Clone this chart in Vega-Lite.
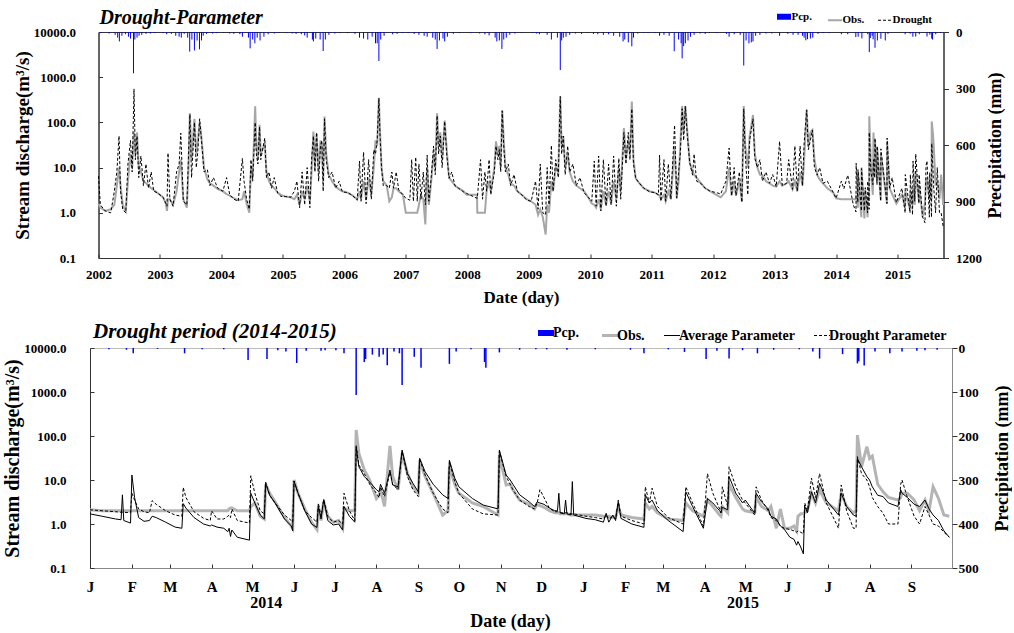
{
"$schema": "https://vega.github.io/schema/vega-lite/v6.json",
"background": "white",
"padding": {"left": 2, "top": 7, "right": 0, "bottom": 0},
"align": "all",
"center": true,
"bounds": "flush",
"spacing": 90,
"config": {
  "font": "Liberation Serif",
  "view": {"stroke": "#333"},
  "axis": {"labelFont": "Liberation Serif", "titleFont": "Liberation Serif", "labelFontWeight": "bold", "titleFontWeight": "bold", "labelColor": "#000", "titleColor": "#000", "grid": false, "domainColor": "#333", "tickColor": "#333", "labelFlush": false, "labelOverlap": false},
  "legend": {"labelFont": "Liberation Serif", "labelFontWeight": "bold", "labelColor": "#000"},
  "title": {"font": "Liberation Serif", "color": "#000"}
},
"resolve": {"scale": {"color": "independent"}, "legend": {"color": "independent"}},
"datasets": {
"top": [
{"t":"2002-01-01","o":1.6,"d":6.5},{"t":"2002-01-12","o":1.3,"d":1.5},{"t":"2002-02-10","o":1.1,"d":1.1},{"t":"2002-03-15","o":1.2,"d":1.0},{"t":"2002-04-05","o":1.5,"d":3},{"t":"2002-04-20","o":4,"d":8},{"t":"2002-05-03","o":10,"d":50},{"t":"2002-05-12","o":4,"d":3},{"t":"2002-05-25","o":1.5,"d":1.2},{"t":"2002-06-12","o":1.1,"d":1.0},{"t":"2002-06-25","o":5,"d":12},{"t":"2002-07-10","o":20,"d":40},{"t":"2002-07-20","o":10,"d":8},{"t":"2002-07-31","o":60,"d":550},{"t":"2002-08-08","o":20,"d":15},{"t":"2002-08-18","o":60,"d":50},{"t":"2002-08-28","o":10,"d":6},{"t":"2002-09-10","o":8,"d":18},{"t":"2002-09-25","o":5,"d":4},{"t":"2002-10-10","o":4.5,"d":12},{"t":"2002-10-25","o":4,"d":3.5},{"t":"2002-11-10","o":3.5,"d":8},{"t":"2002-11-25","o":3.2,"d":3},{"t":"2002-12-15","o":2.8,"d":2.8},
{"t":"2003-01-20","o":2.2,"d":2.2},{"t":"2003-02-05","o":1.6,"d":1.6},{"t":"2003-02-12","o":1.1,"d":1.4},{"t":"2003-02-18","o":2,"d":21},{"t":"2003-03-01","o":2,"d":2},{"t":"2003-03-20","o":1.5,"d":1.4},{"t":"2003-04-10","o":3,"d":8},{"t":"2003-04-25","o":8,"d":12},{"t":"2003-05-05","o":15,"d":58},{"t":"2003-05-20","o":2,"d":1.8},{"t":"2003-06-10","o":1.3,"d":1.5},{"t":"2003-06-20","o":10,"d":20},{"t":"2003-06-28","o":160,"d":150},{"t":"2003-07-08","o":15,"d":6},{"t":"2003-07-25","o":120,"d":100},{"t":"2003-08-05","o":20,"d":10},{"t":"2003-08-15","o":40,"d":25},{"t":"2003-08-25","o":100,"d":120},{"t":"2003-09-05","o":45,"d":40},{"t":"2003-09-20","o":10,"d":8},{"t":"2003-10-10","o":5.5,"d":9},{"t":"2003-10-25","o":4.5,"d":4},{"t":"2003-11-15","o":4,"d":6},{"t":"2003-12-10","o":3.4,"d":3.5},
{"t":"2004-01-10","o":3,"d":3},{"t":"2004-02-01","o":2.6,"d":6},{"t":"2004-02-20","o":2.4,"d":2.5},{"t":"2004-03-15","o":2.1,"d":2},{"t":"2004-04-10","o":1.9,"d":1.8},{"t":"2004-05-05","o":2,"d":16},{"t":"2004-05-15","o":3,"d":5},{"t":"2004-05-30","o":1.6,"d":2},{"t":"2004-06-15","o":1.0,"d":1.2},{"t":"2004-06-25","o":10,"d":15},{"t":"2004-07-05","o":6,"d":5},{"t":"2004-07-20","o":227,"d":100},{"t":"2004-07-27","o":30,"d":20},{"t":"2004-08-05","o":15,"d":12},{"t":"2004-08-15","o":88,"d":80},{"t":"2004-08-22","o":20,"d":15},{"t":"2004-09-15","o":35,"d":45},{"t":"2004-09-25","o":8,"d":6},{"t":"2004-10-10","o":5,"d":8},{"t":"2004-10-25","o":4,"d":3.5},{"t":"2004-11-10","o":3.5,"d":6},{"t":"2004-12-01","o":2.8,"d":2.7},{"t":"2004-12-20","o":2.5,"d":2.3},
{"t":"2005-01-15","o":2.3,"d":2.3},{"t":"2005-02-15","o":2.2,"d":2.2},{"t":"2005-03-10","o":2.0,"d":3},{"t":"2005-03-25","o":2.5,"d":5},{"t":"2005-04-10","o":1.5,"d":1.3},{"t":"2005-04-25","o":3,"d":8},{"t":"2005-05-10","o":2,"d":1.5},{"t":"2005-05-25","o":4,"d":10},{"t":"2005-06-10","o":1.8,"d":1.3},{"t":"2005-06-20","o":8,"d":15},{"t":"2005-07-01","o":63,"d":50},{"t":"2005-07-10","o":10,"d":8},{"t":"2005-07-20","o":55,"d":60},{"t":"2005-08-01","o":8,"d":5},{"t":"2005-08-12","o":40,"d":30},{"t":"2005-08-20","o":30,"d":40},{"t":"2005-08-28","o":5,"d":3},{"t":"2005-09-05","o":135,"d":120},{"t":"2005-09-15","o":20,"d":15},{"t":"2005-09-30","o":7,"d":6},{"t":"2005-10-20","o":5,"d":8},{"t":"2005-11-10","o":3.8,"d":3.5},{"t":"2005-12-01","o":3.3,"d":5},{"t":"2005-12-20","o":3.0,"d":2.9},
{"t":"2006-01-20","o":2.8,"d":2.8},{"t":"2006-02-20","o":2.4,"d":2.4},{"t":"2006-03-18","o":2.0,"d":1.9},{"t":"2006-04-01","o":3,"d":14},{"t":"2006-04-10","o":2,"d":1.8},{"t":"2006-04-25","o":5,"d":22},{"t":"2006-05-10","o":2,"d":1.6},{"t":"2006-05-25","o":6,"d":15},{"t":"2006-06-10","o":2.5,"d":2},{"t":"2006-06-25","o":10,"d":25},{"t":"2006-07-05","o":40,"d":20},{"t":"2006-07-15","o":30,"d":40},{"t":"2006-07-25","o":350,"d":340},{"t":"2006-08-01","o":60,"d":50},{"t":"2006-08-10","o":10,"d":9.7},{"t":"2006-08-20","o":5,"d":4},{"t":"2006-09-10","o":4,"d":4},{"t":"2006-09-25","o":1.8,"d":3.5},{"t":"2006-10-10","o":2.2,"d":8},{"t":"2006-10-20","o":3.5,"d":3.5},{"t":"2006-11-05","o":3.5,"d":8},{"t":"2006-11-20","o":3,"d":3.2},{"t":"2006-12-15","o":2.5,"d":2.5},
{"t":"2007-01-01","o":1.0,"d":2.1},{"t":"2007-01-25","o":1.0,"d":1.9},{"t":"2007-02-05","o":1.0,"d":15},{"t":"2007-02-15","o":1.0,"d":1.8},{"t":"2007-03-01","o":1.0,"d":17},{"t":"2007-03-10","o":1.0,"d":1.8},{"t":"2007-03-20","o":1.5,"d":12},{"t":"2007-04-01","o":2.5,"d":2},{"t":"2007-04-15","o":2,"d":8},{"t":"2007-04-27","o":0.55,"d":1.5},{"t":"2007-05-08","o":10,"d":19},{"t":"2007-05-18","o":1.5,"d":1.8},{"t":"2007-06-01","o":5,"d":6},{"t":"2007-06-15","o":20,"d":30},{"t":"2007-06-25","o":10,"d":7},{"t":"2007-07-06","o":160,"d":140},{"t":"2007-07-15","o":30,"d":20},{"t":"2007-07-25","o":60,"d":50},{"t":"2007-08-05","o":15,"d":10},{"t":"2007-08-20","o":110,"d":105},{"t":"2007-09-01","o":25,"d":20},{"t":"2007-09-15","o":6,"d":5.8},{"t":"2007-10-01","o":5,"d":8},{"t":"2007-10-20","o":4,"d":4},{"t":"2007-11-10","o":3.5,"d":3.5},{"t":"2007-12-10","o":3,"d":2.9},{"t":"2007-12-28","o":2.5,"d":2.7},
{"t":"2008-01-15","o":2.5,"d":2.5},{"t":"2008-02-15","o":2.5,"d":2.2},{"t":"2008-02-28","o":2.5,"d":2.1},{"t":"2008-03-01","o":1.0,"d":2.1},{"t":"2008-03-20","o":1.0,"d":15},{"t":"2008-04-01","o":1.0,"d":2},{"t":"2008-04-15","o":1.0,"d":8},{"t":"2008-04-25","o":3,"d":3},{"t":"2008-05-10","o":5,"d":15},{"t":"2008-05-20","o":3,"d":2.5},{"t":"2008-06-10","o":10,"d":8},{"t":"2008-06-20","o":38,"d":30},{"t":"2008-07-01","o":20,"d":15},{"t":"2008-07-10","o":30,"d":25},{"t":"2008-07-18","o":10,"d":8},{"t":"2008-07-27","o":185,"d":180},{"t":"2008-08-05","o":40,"d":30},{"t":"2008-08-15","o":10,"d":8},{"t":"2008-09-01","o":7,"d":12},{"t":"2008-09-15","o":4.5,"d":4},{"t":"2008-10-05","o":4,"d":7},{"t":"2008-10-25","o":3,"d":3},{"t":"2008-11-20","o":2.5,"d":2.5},{"t":"2008-12-20","o":2,"d":1.9},
{"t":"2009-01-15","o":1.8,"d":1.8},{"t":"2009-02-10","o":1.5,"d":5},{"t":"2009-02-25","o":0.9,"d":1.2},{"t":"2009-03-10","o":1.2,"d":12},{"t":"2009-03-25","o":0.8,"d":1.0},{"t":"2009-04-11","o":0.33,"d":0.9},{"t":"2009-04-20","o":1.5,"d":10},{"t":"2009-05-01","o":1,"d":1.5},{"t":"2009-05-15","o":5,"d":31},{"t":"2009-05-25","o":3,"d":3},{"t":"2009-06-10","o":10,"d":15},{"t":"2009-06-25","o":8,"d":6},{"t":"2009-07-07","o":370,"d":376},{"t":"2009-07-15","o":30,"d":20},{"t":"2009-07-25","o":50,"d":50},{"t":"2009-08-05","o":10,"d":7},{"t":"2009-08-20","o":20,"d":30},{"t":"2009-09-01","o":8,"d":8},{"t":"2009-09-20","o":5,"d":12},{"t":"2009-10-10","o":4,"d":4},{"t":"2009-11-01","o":3.5,"d":6},{"t":"2009-11-25","o":3,"d":2.8},{"t":"2009-12-20","o":2.2,"d":2.2},
{"t":"2010-01-10","o":1.6,"d":1.8},{"t":"2010-01-25","o":1.5,"d":14},{"t":"2010-02-05","o":1.3,"d":1.4},{"t":"2010-02-20","o":2,"d":18},{"t":"2010-03-05","o":1.2,"d":1.1},{"t":"2010-03-20","o":3,"d":15},{"t":"2010-04-05","o":1.5,"d":1.4},{"t":"2010-04-20","o":3,"d":12},{"t":"2010-05-05","o":1.6,"d":1.5},{"t":"2010-05-20","o":5,"d":18},{"t":"2010-06-05","o":2,"d":1.4},{"t":"2010-06-20","o":10,"d":16},{"t":"2010-07-01","o":3,"d":2},{"t":"2010-07-20","o":75,"d":60},{"t":"2010-08-01","o":15,"d":12},{"t":"2010-08-15","o":40,"d":60},{"t":"2010-08-25","o":20,"d":15},{"t":"2010-09-05","o":290,"d":200},{"t":"2010-09-15","o":15,"d":12},{"t":"2010-09-28","o":5.8,"d":5.8},{"t":"2010-10-20","o":4.5,"d":4.5},{"t":"2010-11-15","o":3.5,"d":3.5},{"t":"2010-12-20","o":3,"d":2.9},
{"t":"2011-01-20","o":2.8,"d":2.8},{"t":"2011-02-10","o":2.5,"d":2.5},{"t":"2011-02-17","o":2.4,"d":19},{"t":"2011-02-25","o":2,"d":1.8},{"t":"2011-03-15","o":2.5,"d":15},{"t":"2011-03-25","o":1.8,"d":1.8},{"t":"2011-04-10","o":3,"d":12},{"t":"2011-04-25","o":2,"d":2},{"t":"2011-05-17","o":30,"d":87},{"t":"2011-05-30","o":2.1,"d":2.1},{"t":"2011-06-10","o":5,"d":8},{"t":"2011-06-20","o":30,"d":20},{"t":"2011-07-01","o":230,"d":200},{"t":"2011-07-10","o":60,"d":40},{"t":"2011-07-20","o":230,"d":230},{"t":"2011-08-01","o":60,"d":50},{"t":"2011-08-15","o":13,"d":13},{"t":"2011-09-01","o":8,"d":6.8},{"t":"2011-09-10","o":7,"d":20},{"t":"2011-09-25","o":6,"d":5},{"t":"2011-10-20","o":4.5,"d":4.5},{"t":"2011-11-15","o":3.5,"d":3.5},{"t":"2011-12-15","o":3,"d":3},
{"t":"2012-01-20","o":2.5,"d":2.8},{"t":"2012-02-15","o":2.2,"d":2.6},{"t":"2012-03-17","o":3,"d":5},{"t":"2012-04-05","o":10,"d":27},{"t":"2012-04-20","o":2.4,"d":2.4},{"t":"2012-05-05","o":5,"d":10},{"t":"2012-05-16","o":2.4,"d":2.4},{"t":"2012-06-05","o":5,"d":8},{"t":"2012-06-20","o":1.8,"d":1.7},{"t":"2012-07-01","o":230,"d":200},{"t":"2012-07-10","o":30,"d":20},{"t":"2012-07-25","o":10,"d":2.5},{"t":"2012-08-05","o":50,"d":40},{"t":"2012-08-25","o":146,"d":120},{"t":"2012-09-05","o":20,"d":16},{"t":"2012-09-20","o":10,"d":10},{"t":"2012-10-05","o":7,"d":15},{"t":"2012-10-20","o":6.8,"d":5},{"t":"2012-11-10","o":5,"d":8},{"t":"2012-12-01","o":4.5,"d":4.5},{"t":"2012-12-20","o":4,"d":7},
{"t":"2013-01-10","o":3.8,"d":3.8},{"t":"2013-01-30","o":5,"d":38},{"t":"2013-02-15","o":4,"d":4},{"t":"2013-03-13","o":4.5,"d":4.5},{"t":"2013-03-25","o":5,"d":15},{"t":"2013-04-17","o":3.3,"d":3.3},{"t":"2013-05-01","o":5,"d":30},{"t":"2013-05-15","o":3,"d":3},{"t":"2013-06-01","o":8,"d":30},{"t":"2013-06-15","o":4,"d":4},{"t":"2013-06-25","o":15,"d":35},{"t":"2013-07-10","o":190,"d":190},{"t":"2013-07-20","o":30,"d":25},{"t":"2013-08-01","o":60,"d":40},{"t":"2013-08-13","o":68,"d":68},{"t":"2013-08-25","o":15,"d":10},{"t":"2013-09-11","o":6.8,"d":6.8},{"t":"2013-09-25","o":5.5,"d":10},{"t":"2013-10-15","o":4.5,"d":4.5},{"t":"2013-11-10","o":3.5,"d":5},{"t":"2013-12-15","o":2.8,"d":2.8},
{"t":"2014-01-01","o":2.1,"d":2.1},{"t":"2014-02-01","o":2.0,"d":5},{"t":"2014-02-16","o":2.0,"d":3.4},{"t":"2014-03-11","o":2.0,"d":6.8},{"t":"2014-04-13","o":2.0,"d":1.5},{"t":"2014-04-29","o":2.0,"d":1.05},{"t":"2014-04-30","o":2.5,"d":12.5},{"t":"2014-05-10","o":1.3,"d":1.7},{"t":"2014-05-11","o":8,"d":9},{"t":"2014-05-31","o":0.8,"d":1.1},{"t":"2014-06-01","o":10,"d":9.5},{"t":"2014-06-18","o":0.75,"d":1.1},{"t":"2014-06-23","o":3.2,"d":3.6},{"t":"2014-07-07","o":0.8,"d":1.0},{"t":"2014-07-08","o":2.3,"d":5},{"t":"2014-07-16","o":2,"d":1.2},{"t":"2014-07-17","o":137,"d":60},{"t":"2014-07-27","o":10,"d":8},{"t":"2014-08-07","o":2.5,"d":4.2},{"t":"2014-08-11","o":60,"d":15},{"t":"2014-08-17","o":6,"d":6},{"t":"2014-08-20","o":40,"d":45},{"t":"2014-09-01","o":5,"d":4.2},{"t":"2014-09-02","o":28,"d":30},{"t":"2014-09-23","o":2,"d":1.8},{"t":"2014-09-24","o":20,"d":26},{"t":"2014-10-30","o":1.6,"d":1.6},{"t":"2014-10-31","o":37,"d":45},{"t":"2014-11-15","o":3.5,"d":3.5},{"t":"2014-11-30","o":2.6,"d":6},{"t":"2014-12-25","o":1.6,"d":1.7},
{"t":"2015-01-27","o":2.5,"d":3.5},{"t":"2015-02-15","o":1.3,"d":1.0},{"t":"2015-02-16","o":3,"d":7},{"t":"2015-03-16","o":1.2,"d":1.0},{"t":"2015-03-18","o":3,"d":7},{"t":"2015-03-31","o":1.5,"d":0.9},{"t":"2015-04-03","o":3.5,"d":14},{"t":"2015-04-13","o":1.5,"d":1.8},{"t":"2015-04-19","o":8,"d":20},{"t":"2015-05-08","o":1.8,"d":1.6},{"t":"2015-05-09","o":4,"d":7},{"t":"2015-05-30","o":0.8,"d":0.8},{"t":"2015-06-13","o":1.7,"d":0.6},{"t":"2015-06-19","o":5,"d":11},{"t":"2015-06-25","o":6,"d":14},{"t":"2015-07-09","o":2,"d":0.8},{"t":"2015-07-11","o":5,"d":7.7},{"t":"2015-07-22","o":2,"d":0.8},{"t":"2015-07-23","o":105,"d":34},{"t":"2015-07-30","o":57,"d":10},{"t":"2015-08-03","o":35,"d":4},{"t":"2015-08-15","o":4,"d":1.0},{"t":"2015-08-25","o":5,"d":10},{"t":"2015-09-07","o":2,"d":1.0},{"t":"2015-09-17","o":7,"d":1.0},{"t":"2015-09-29","o":1.5,"d":0.5}
],
"tp": [
{"t":"2002-01-15","p":5},{"t":"2002-03-05","p":8},{"t":"2002-04-10","p":15},{"t":"2002-04-25","p":30},{"t":"2002-05-05","p":50},{"t":"2002-05-20","p":20},{"t":"2002-06-10","p":12},{"t":"2002-06-28","p":25},{"t":"2002-07-10","p":35},{"t":"2002-07-28","p":219},{"t":"2002-08-05","p":40},{"t":"2002-08-18","p":30},{"t":"2002-08-30","p":20},{"t":"2002-09-15","p":15},{"t":"2002-10-10","p":10},{"t":"2002-11-05","p":8},{"t":"2002-12-01","p":5},
{"t":"2003-01-20","p":6},{"t":"2003-02-10","p":12},{"t":"2003-03-10","p":10},{"t":"2003-04-05","p":20},{"t":"2003-04-25","p":25},{"t":"2003-05-08","p":30},{"t":"2003-05-25","p":10},{"t":"2003-06-15","p":30},{"t":"2003-06-27","p":104},{"t":"2003-07-10","p":40},{"t":"2003-07-25","p":98},{"t":"2003-08-10","p":45},{"t":"2003-08-24","p":92},{"t":"2003-09-05","p":45},{"t":"2003-09-15","p":20},{"t":"2003-10-05","p":10},{"t":"2003-11-10","p":8},{"t":"2003-12-05","p":6},
{"t":"2004-01-15","p":5},{"t":"2004-02-20","p":8},{"t":"2004-03-15","p":10},{"t":"2004-04-20","p":12},{"t":"2004-05-05","p":25},{"t":"2004-06-10","p":30},{"t":"2004-06-20","p":87},{"t":"2004-07-05","p":40},{"t":"2004-07-18","p":60},{"t":"2004-08-01","p":30},{"t":"2004-08-18","p":45},{"t":"2004-09-10","p":25},{"t":"2004-10-05","p":12},{"t":"2004-11-10","p":8},{"t":"2004-12-10","p":5},
{"t":"2005-01-20","p":5},{"t":"2005-02-25","p":8},{"t":"2005-03-20","p":10},{"t":"2005-04-20","p":12},{"t":"2005-05-10","p":18},{"t":"2005-05-25","p":30},{"t":"2005-06-25","p":40},{"t":"2005-07-01","p":50},{"t":"2005-07-15","p":35},{"t":"2005-08-10","p":40},{"t":"2005-08-28","p":101},{"t":"2005-09-10","p":40},{"t":"2005-10-01","p":15},{"t":"2005-11-05","p":8},{"t":"2005-12-05","p":6},
{"t":"2006-01-20","p":6},{"t":"2006-03-05","p":10},{"t":"2006-04-01","p":30},{"t":"2006-04-25","p":35},{"t":"2006-05-20","p":40},{"t":"2006-06-15","p":25},{"t":"2006-07-05","p":60},{"t":"2006-07-15","p":60},{"t":"2006-07-25","p":154},{"t":"2006-08-05","p":40},{"t":"2006-08-25","p":20},{"t":"2006-10-15","p":12},{"t":"2006-11-10","p":10},{"t":"2006-12-10","p":5},
{"t":"2007-01-15","p":5},{"t":"2007-02-20","p":10},{"t":"2007-03-20","p":15},{"t":"2007-04-20","p":20},{"t":"2007-05-08","p":25},{"t":"2007-06-10","p":30},{"t":"2007-06-25","p":40},{"t":"2007-07-06","p":90},{"t":"2007-07-20","p":45},{"t":"2007-08-10","p":35},{"t":"2007-08-20","p":50},{"t":"2007-09-05","p":25},{"t":"2007-10-10","p":10},{"t":"2007-11-15","p":6},
{"t":"2008-01-20","p":5},{"t":"2008-03-15","p":8},{"t":"2008-04-15","p":12},{"t":"2008-05-10","p":18},{"t":"2008-06-15","p":30},{"t":"2008-06-25","p":50},{"t":"2008-07-10","p":45},{"t":"2008-07-25","p":90},{"t":"2008-08-05","p":40},{"t":"2008-08-20","p":30},{"t":"2008-09-10","p":15},{"t":"2008-10-10","p":8},{"t":"2008-11-20","p":5},
{"t":"2009-01-20","p":5},{"t":"2009-02-15","p":8},{"t":"2009-03-05","p":12},{"t":"2009-04-20","p":15},{"t":"2009-05-15","p":40},{"t":"2009-06-20","p":30},{"t":"2009-07-07","p":202},{"t":"2009-07-15","p":45},{"t":"2009-07-25","p":30},{"t":"2009-08-10","p":25},{"t":"2009-09-01","p":15},{"t":"2009-10-05","p":8},{"t":"2009-11-10","p":10},{"t":"2009-12-15","p":5},
{"t":"2010-01-20","p":10},{"t":"2010-02-15","p":12},{"t":"2010-03-20","p":15},{"t":"2010-04-20","p":12},{"t":"2010-05-20","p":20},{"t":"2010-06-25","p":25},{"t":"2010-07-15","p":50},{"t":"2010-07-25","p":40},{"t":"2010-08-15","p":55},{"t":"2010-09-05","p":76},{"t":"2010-09-15","p":30},{"t":"2010-10-10","p":8},{"t":"2010-11-15","p":5},{"t":"2010-12-10","p":5},
{"t":"2011-01-20","p":5},{"t":"2011-02-17","p":20},{"t":"2011-03-15","p":15},{"t":"2011-04-15","p":20},{"t":"2011-05-15","p":102},{"t":"2011-06-10","p":40},{"t":"2011-06-25","p":60},{"t":"2011-07-01","p":140},{"t":"2011-07-10","p":75},{"t":"2011-07-20","p":60},{"t":"2011-08-05","p":45},{"t":"2011-08-20","p":25},{"t":"2011-09-10","p":15},{"t":"2011-10-15","p":8},{"t":"2011-11-15","p":10},{"t":"2011-12-10","p":5},
{"t":"2012-01-20","p":5},{"t":"2012-03-20","p":10},{"t":"2012-04-05","p":25},{"t":"2012-05-05","p":12},{"t":"2012-06-10","p":15},{"t":"2012-07-01","p":178},{"t":"2012-07-15","p":45},{"t":"2012-08-01","p":60},{"t":"2012-08-15","p":55},{"t":"2012-08-25","p":50},{"t":"2012-09-10","p":20},{"t":"2012-10-05","p":15},{"t":"2012-11-10","p":8},{"t":"2012-12-15","p":8},
{"t":"2013-01-30","p":20},{"t":"2013-03-20","p":10},{"t":"2013-04-20","p":15},{"t":"2013-05-20","p":15},{"t":"2013-06-15","p":20},{"t":"2013-06-25","p":30},{"t":"2013-07-05","p":44},{"t":"2013-07-15","p":38},{"t":"2013-08-01","p":35},{"t":"2013-08-15","p":30},{"t":"2013-09-15","p":10},{"t":"2013-10-15","p":6},{"t":"2013-11-20","p":5},
{"t":"2014-02-01","p":12},{"t":"2014-03-11","p":12},{"t":"2014-04-28","p":27},{"t":"2014-05-12","p":25},{"t":"2014-06-03","p":34},{"t":"2014-07-08","p":12},{"t":"2014-07-17","p":107},{"t":"2014-07-23","p":32},{"t":"2014-08-03","p":20},{"t":"2014-08-09","p":39},{"t":"2014-08-20","p":84},{"t":"2014-09-03","p":45},{"t":"2014-09-24","p":36},{"t":"2014-10-20","p":45},{"t":"2014-11-05","p":10},
{"t":"2015-02-15","p":12},{"t":"2015-03-17","p":9},{"t":"2015-04-02","p":25},{"t":"2015-04-19","p":24},{"t":"2015-05-10","p":12},{"t":"2015-06-25","p":24},{"t":"2015-07-12","p":14},{"t":"2015-07-23","p":35},{"t":"2015-07-28","p":40},{"t":"2015-08-16","p":12},{"t":"2015-09-11","p":5}
],
"bot": [
{"t":"2014-01-01","o":2.1,"a":1.7,"d":2.1},{"t":"2014-01-10","o":2.0,"a":1.5,"d":2.0},{"t":"2014-01-20","o":2.0,"a":1.3,"d":1.9},{"t":"2014-01-24","o":2.0,"a":1.25,"d":1.85},{"t":"2014-01-25","o":2.0,"a":4.6,"d":1.85},{"t":"2014-01-26","o":2.0,"a":1.2,"d":1.85},{"t":"2014-01-31","o":2.0,"a":1.05,"d":1.8},{"t":"2014-02-01","o":2.0,"a":13,"d":5},{"t":"2014-02-03","o":2.0,"a":4,"d":3.5},{"t":"2014-02-06","o":2.0,"a":1.4,"d":2.2},{"t":"2014-02-10","o":2.0,"a":1.15,"d":1.9},{"t":"2014-02-14","o":2.0,"a":1.2,"d":1.8},{"t":"2014-02-16","o":2.0,"a":1.5,"d":3.4},{"t":"2014-02-19","o":2.0,"a":1.4,"d":2.8},{"t":"2014-02-26","o":2.0,"a":1.1,"d":2.0},{"t":"2014-03-05","o":2.0,"a":0.85,"d":1.6},{"t":"2014-03-10","o":2.0,"a":0.8,"d":1.5},{"t":"2014-03-11","o":2.0,"a":2.9,"d":6.8},{"t":"2014-03-13","o":2.0,"a":2.3,"d":4},{"t":"2014-03-19","o":2.0,"a":1.4,"d":1.9},{"t":"2014-03-26","o":2.0,"a":1.0,"d":1.35},{"t":"2014-03-31","o":2.0,"a":0.9,"d":1.2},{"t":"2014-04-01","o":2.0,"a":0.95,"d":2.0},{"t":"2014-04-05","o":2.0,"a":0.85,"d":1.3},{"t":"2014-04-10","o":2.0,"a":0.8,"d":1.3},{"t":"2014-04-13","o":2.0,"a":0.67,"d":1.5},{"t":"2014-04-14","o":2.2,"a":0.8,"d":1.6},{"t":"2014-04-15","o":2.3,"a":0.52,"d":1.4},{"t":"2014-04-16","o":2.3,"a":0.73,"d":2.2},{"t":"2014-04-20","o":2.0,"a":0.5,"d":1.2},{"t":"2014-04-29","o":2.0,"a":0.43,"d":1.05},{"t":"2014-04-30","o":2.5,"a":5.0,"d":12.5},{"t":"2014-05-03","o":3,"a":3.0,"d":5},{"t":"2014-05-07","o":1.5,"a":1.6,"d":2.0},{"t":"2014-05-10","o":1.3,"a":1.3,"d":1.7},{"t":"2014-05-11","o":8,"a":8.4,"d":9},{"t":"2014-05-14","o":5,"a":4.5,"d":4.5},{"t":"2014-05-18","o":3.2,"a":3.0,"d":3},{"t":"2014-05-25","o":1.4,"a":1.3,"d":1.6},{"t":"2014-05-30","o":0.9,"a":0.9,"d":1.2},{"t":"2014-05-31","o":0.8,"a":0.7,"d":1.1},{"t":"2014-06-01","o":10,"a":9.5,"d":9.5},{"t":"2014-06-04","o":5,"a":5,"d":5},{"t":"2014-06-09","o":2.2,"a":2,"d":2},{"t":"2014-06-14","o":1.1,"a":1.0,"d":1.4},{"t":"2014-06-18","o":0.75,"a":0.83,"d":1.1},{"t":"2014-06-19","o":2.5,"a":2.5,"d":3},{"t":"2014-06-21","o":1.2,"a":1.3,"d":1.5},{"t":"2014-06-23","o":3.2,"a":3.6,"d":3.6},{"t":"2014-06-26","o":1.5,"a":1.2,"d":1.5},{"t":"2014-06-30","o":1.1,"a":0.95,"d":1.1},{"t":"2014-07-04","o":1.2,"a":1.0,"d":1.2},{"t":"2014-07-07","o":0.8,"a":0.73,"d":1.0},{"t":"2014-07-08","o":2.3,"a":2.5,"d":5},{"t":"2014-07-12","o":2.0,"a":1.5,"d":2.0},{"t":"2014-07-16","o":2.0,"a":1.1,"d":1.2},{"t":"2014-07-17","o":137,"a":57,"d":60},{"t":"2014-07-19","o":40,"a":20,"d":22},{"t":"2014-07-23","o":17,"a":12,"d":14},{"t":"2014-07-27","o":10,"a":9,"d":8},{"t":"2014-08-01","o":3.8,"a":6,"d":5},{"t":"2014-08-03","o":4.5,"a":5.4,"d":4},{"t":"2014-08-04","o":6,"a":8,"d":7},{"t":"2014-08-07","o":2.5,"a":5,"d":4.2},{"t":"2014-08-11","o":60,"a":16.8,"d":15},{"t":"2014-08-13","o":12,"a":7.7,"d":8},{"t":"2014-08-17","o":6,"a":7,"d":6},{"t":"2014-08-20","o":40,"a":48,"d":45},{"t":"2014-08-24","o":14,"a":14,"d":12},{"t":"2014-08-28","o":7,"a":8.4,"d":6},{"t":"2014-09-01","o":5,"a":5.4,"d":4.2},{"t":"2014-09-02","o":28,"a":31,"d":30},{"t":"2014-09-06","o":12,"a":15.5,"d":13},{"t":"2014-09-12","o":5,"a":8,"d":5},{"t":"2014-09-19","o":1.6,"a":4.6,"d":2.2},{"t":"2014-09-23","o":2,"a":3.8,"d":1.8},{"t":"2014-09-24","o":20,"a":28,"d":26},{"t":"2014-09-28","o":8,"a":11,"d":9},{"t":"2014-10-01","o":5,"a":7,"d":5},{"t":"2014-10-11","o":3,"a":3.8,"d":2.2},{"t":"2014-10-19","o":2.5,"a":2.7,"d":1.7},{"t":"2014-10-30","o":1.6,"a":2.2,"d":1.6},{"t":"2014-10-31","o":37,"a":48,"d":45},{"t":"2014-11-05","o":7.7,"a":13,"d":12},{"t":"2014-11-08","o":8,"a":10,"d":8},{"t":"2014-11-10","o":6,"a":8,"d":6},{"t":"2014-11-15","o":3.5,"a":4.6,"d":3.5},{"t":"2014-11-22","o":2.8,"a":3.2,"d":2.5},{"t":"2014-11-26","o":2.2,"a":2.5,"d":2.2},{"t":"2014-11-28","o":2.8,"a":3.2,"d":3},{"t":"2014-11-30","o":2.6,"a":3.0,"d":6},{"t":"2014-12-03","o":2.4,"a":2.8,"d":4},{"t":"2014-12-07","o":2.0,"a":2.3,"d":2.3},{"t":"2014-12-11","o":1.8,"a":2.0,"d":1.9},{"t":"2014-12-13","o":1.8,"a":2.0,"d":1.9},{"t":"2014-12-14","o":1.8,"a":5,"d":1.9},{"t":"2014-12-15","o":1.7,"a":1.8,"d":1.8},{"t":"2014-12-18","o":1.7,"a":1.7,"d":1.8},{"t":"2014-12-19","o":1.7,"a":3.5,"d":1.8},{"t":"2014-12-20","o":1.7,"a":1.7,"d":1.8},{"t":"2014-12-23","o":1.6,"a":1.6,"d":1.7},{"t":"2014-12-24","o":1.6,"a":9.2,"d":1.7},{"t":"2014-12-25","o":1.6,"a":1.6,"d":1.7},
{"t":"2015-01-03","o":1.6,"a":1.34,"d":1.5},{"t":"2015-01-10","o":1.6,"a":1.25,"d":1.4},{"t":"2015-01-16","o":1.5,"a":1.1,"d":1.3},{"t":"2015-01-18","o":1.5,"a":1.75,"d":1.6},{"t":"2015-01-20","o":1.5,"a":1.1,"d":1.3},{"t":"2015-01-23","o":1.4,"a":1.6,"d":1.5},{"t":"2015-01-25","o":1.4,"a":1.2,"d":1.3},{"t":"2015-01-27","o":2.5,"a":3.2,"d":3.5},{"t":"2015-01-29","o":1.6,"a":1.34,"d":1.5},{"t":"2015-02-06","o":1.4,"a":1.0,"d":1.2},{"t":"2015-02-15","o":1.3,"a":0.84,"d":1.0},{"t":"2015-02-16","o":3,"a":4.6,"d":7},{"t":"2015-02-19","o":2.2,"a":3.0,"d":3},{"t":"2015-02-21","o":2.5,"a":3.5,"d":6.5},{"t":"2015-02-25","o":1.8,"a":2.0,"d":2.5},{"t":"2015-03-05","o":1.3,"a":1.2,"d":1.4},{"t":"2015-03-16","o":1.2,"a":0.67,"d":1.0},{"t":"2015-03-18","o":3,"a":5.4,"d":7},{"t":"2015-03-23","o":2,"a":2.5,"d":3},{"t":"2015-03-31","o":1.5,"a":0.8,"d":0.9},{"t":"2015-04-03","o":3.5,"a":3.8,"d":14},{"t":"2015-04-07","o":2.5,"a":3.0,"d":5},{"t":"2015-04-12","o":1.6,"a":2.0,"d":2.2},{"t":"2015-04-13","o":1.5,"a":1.8,"d":1.8},{"t":"2015-04-14","o":2.5,"a":2.4,"d":7},{"t":"2015-04-18","o":1.8,"a":2.1,"d":2.5},{"t":"2015-04-19","o":8,"a":12,"d":20},{"t":"2015-04-24","o":4,"a":5,"d":7},{"t":"2015-04-29","o":2.2,"a":3,"d":3.5},{"t":"2015-05-01","o":2,"a":3.5,"d":3},{"t":"2015-05-08","o":1.8,"a":1.75,"d":1.6},{"t":"2015-05-09","o":4,"a":5,"d":7},{"t":"2015-05-13","o":2.5,"a":3.2,"d":3.5},{"t":"2015-05-18","o":2,"a":2.2,"d":2.0},{"t":"2015-05-20","o":2.5,"a":1.5,"d":1.4},{"t":"2015-05-24","o":0.8,"a":1.3,"d":1.2},{"t":"2015-05-27","o":2.2,"a":0.9,"d":0.9},{"t":"2015-05-30","o":0.8,"a":0.75,"d":0.8},{"t":"2015-06-03","o":0.8,"a":0.5,"d":0.75},{"t":"2015-06-06","o":0.9,"a":0.45,"d":0.7},{"t":"2015-06-08","o":0.7,"a":0.33,"d":0.65},{"t":"2015-06-09","o":1.5,"a":0.4,"d":0.7},{"t":"2015-06-11","o":1.7,"a":0.3,"d":0.65},{"t":"2015-06-13","o":1.7,"a":0.21,"d":0.6},{"t":"2015-06-14","o":1.8,"a":2.5,"d":3},{"t":"2015-06-16","o":2,"a":1.8,"d":2},{"t":"2015-06-19","o":5,"a":5.4,"d":11},{"t":"2015-06-22","o":3,"a":3,"d":4},{"t":"2015-06-25","o":6,"a":8.4,"d":14},{"t":"2015-06-30","o":3,"a":3.5,"d":3},{"t":"2015-07-09","o":2,"a":1.6,"d":0.8},{"t":"2015-07-11","o":5,"a":5,"d":7.7},{"t":"2015-07-15","o":2.5,"a":2.5,"d":2},{"t":"2015-07-20","o":1.8,"a":1.6,"d":0.8},{"t":"2015-07-22","o":2,"a":1.5,"d":0.8},{"t":"2015-07-23","o":105,"a":31,"d":34},{"t":"2015-07-26","o":20,"a":20,"d":14},{"t":"2015-07-30","o":57,"a":12,"d":10},{"t":"2015-08-01","o":31,"a":10,"d":7},{"t":"2015-08-03","o":35,"a":7,"d":4},{"t":"2015-08-07","o":8,"a":4.5,"d":2.5},{"t":"2015-08-11","o":5.4,"a":4.2,"d":1.75},{"t":"2015-08-15","o":4,"a":3,"d":1.0},{"t":"2015-08-22","o":3.5,"a":2.5,"d":1.0},{"t":"2015-08-24","o":4,"a":6,"d":8},{"t":"2015-08-25","o":5,"a":5,"d":10},{"t":"2015-08-29","o":5,"a":4,"d":4},{"t":"2015-09-03","o":3.5,"a":2.8,"d":1.5},{"t":"2015-09-07","o":2,"a":2.5,"d":1.0},{"t":"2015-09-11","o":3.5,"a":3.5,"d":2.5},{"t":"2015-09-14","o":2,"a":2.2,"d":1.6},{"t":"2015-09-17","o":7,"a":1.6,"d":1.0},{"t":"2015-09-21","o":3.8,"a":1.2,"d":0.9},{"t":"2015-09-25","o":1.6,"a":0.7,"d":0.65},{"t":"2015-09-29","o":1.5,"a":0.5,"d":0.5}
],
"bp": [
{"t":"2014-01-15","p":3},{"t":"2014-01-28","p":4},{"t":"2014-02-02","p":12},{"t":"2014-02-20","p":2},{"t":"2014-03-12","p":12},{"t":"2014-03-25","p":3},{"t":"2014-04-10","p":3},{"t":"2014-04-28","p":27},{"t":"2014-05-12","p":25},{"t":"2014-05-20","p":5},{"t":"2014-05-26","p":8},{"t":"2014-06-03","p":34},{"t":"2014-06-10","p":6},{"t":"2014-06-21","p":6},{"t":"2014-06-24","p":5},{"t":"2014-07-02","p":5},{"t":"2014-07-08","p":12},{"t":"2014-07-17","p":107},{"t":"2014-07-23","p":32},{"t":"2014-07-24","p":25},{"t":"2014-07-29","p":15},{"t":"2014-08-03","p":20},{"t":"2014-08-06","p":15},{"t":"2014-08-09","p":39},{"t":"2014-08-14","p":8},{"t":"2014-08-18","p":12},{"t":"2014-08-20","p":84},{"t":"2014-08-29","p":20},{"t":"2014-09-03","p":45},{"t":"2014-09-24","p":36},{"t":"2014-09-29","p":8},{"t":"2014-10-10","p":3},{"t":"2014-10-20","p":32},{"t":"2014-10-21","p":45},{"t":"2014-10-31","p":10},{"t":"2014-11-15","p":4},{"t":"2014-11-27","p":3},{"t":"2014-12-05","p":3},{"t":"2014-12-20","p":4},
{"t":"2015-01-10","p":3},{"t":"2015-02-05","p":4},{"t":"2015-02-15","p":12},{"t":"2015-03-05","p":3},{"t":"2015-03-17","p":9},{"t":"2015-04-02","p":25},{"t":"2015-04-10","p":6},{"t":"2015-04-19","p":24},{"t":"2015-04-29","p":5},{"t":"2015-05-10","p":12},{"t":"2015-05-22","p":4},{"t":"2015-06-10","p":3},{"t":"2015-06-20","p":8},{"t":"2015-06-25","p":24},{"t":"2015-07-12","p":14},{"t":"2015-07-23","p":35},{"t":"2015-07-24","p":30},{"t":"2015-07-28","p":40},{"t":"2015-08-05","p":8},{"t":"2015-08-16","p":12},{"t":"2015-08-25","p":8},{"t":"2015-09-05","p":6},{"t":"2015-09-11","p":5},{"t":"2015-09-20","p":4}
]
},
"vconcat": [
{
  "width": 845, "height": 226,
  "title": {"text": "Drought-Parameter", "anchor": "start", "frame": "group", "fontSize": 20, "fontStyle": "italic", "fontWeight": "bold", "offset": -17, "dx": 1},
  "encoding": {
    "x": {"field": "t", "type": "temporal", "title": "Date (day)",
      "scale": {"type": "utc", "domain": [{"year": 2002, "month": 1, "date": 1, "utc": true}, {"year": 2015, "month": 10, "date": 1, "utc": true}]},
      "axis": {"orient": "bottom", "values": [{"year": 2002, "utc": true}, {"year": 2003, "utc": true}, {"year": 2004, "utc": true}, {"year": 2005, "utc": true}, {"year": 2006, "utc": true}, {"year": 2007, "utc": true}, {"year": 2008, "utc": true}, {"year": 2009, "utc": true}, {"year": 2010, "utc": true}, {"year": 2011, "utc": true}, {"year": 2012, "utc": true}, {"year": 2013, "utc": true}, {"year": 2014, "utc": true}, {"year": 2015, "utc": true}],
        "labelExpr": "utcFormat(datum.value, '%Y')", "labelFontSize": 13, "tickSize": -4, "labelPadding": 14, "titleFontSize": 17, "titlePadding": 8}},
    "color": {"field": "s", "type": "nominal",
      "scale": {"domain": ["p", "o", "d"], "range": ["#0000ff", "#a6a6a6", "#000000"]},
      "legend": {"title": null, "orient": "none", "legendX": 680, "legendY": -21, "direction": "horizontal", "symbolType": "stroke", "symbolSize": 196, "labelFontSize": 11, "columnPadding": 11, "labelOffset": 2, "padding": 0,
        "labelExpr": "datum.label == 'p' ? 'Pcp.' : datum.label == 'o' ? 'Obs.' : 'Drought'",
        "encode": {"symbols": {"update": {"strokeWidth": {"signal": "datum.value == 'p' ? 6 : datum.value == 'o' ? 2 : 1.2"}, "strokeDash": {"signal": "datum.value == 'd' ? [3, 2] : [1, 0]"}}}}}}
  },
  "layer": [
    {"data": {"name": "tp"}, "transform": [{"fold": ["p"], "as": ["s", "v"]}],
     "mark": {"type": "rule", "strokeWidth": 1},
     "encoding": {
       "y": {"field": "v", "type": "quantitative", "scale": {"domain": [0, 1200], "reverse": true, "nice": false},
         "axis": {"orient": "right", "values": [0, 300, 600, 900, 1200], "format": "d", "title": "Precipitation (mm)", "titleAngle": 270, "labelFontSize": 13, "tickSize": 5, "labelPadding": 7, "titleFontSize": 18, "titlePadding": 23}},
       "y2": {"datum": 0}}},
    {"encoding": {"y": {"field": "v", "type": "quantitative", "scale": {"type": "log", "domain": [0.1, 10000], "nice": false},
        "axis": {"orient": "left", "values": [0.1, 1, 10, 100, 1000, 10000], "format": ".1f", "title": "Stream discharge(m³/s)", "labelFontSize": 13, "tickSize": -4, "labelPadding": 27, "titleFontSize": 19, "titlePadding": 1}}},
     "layer": [
      {"data": {"name": "top"}, "transform": [{"fold": ["o"], "as": ["s", "v"]}], "mark": {"type": "line", "strokeWidth": 2}},
      {"data": {"name": "top"}, "transform": [{"fold": ["d"], "as": ["s", "v"]}], "mark": {"type": "line", "strokeWidth": 1, "strokeDash": [3, 2]}}
     ]}
  ],
  "resolve": {"scale": {"y": "independent"}}
},
{
  "width": 862, "height": 220,
  "view": {"stroke": "#777", "strokeDash": [1, 1]},
  "title": {"text": "Drought period (2014-2015)", "anchor": "start", "frame": "group", "fontSize": 21, "fontStyle": "italic", "fontWeight": "bold", "offset": -16, "dx": 3},
  "encoding": {
    "x": {"field": "t", "type": "temporal", "title": null,
      "scale": {"type": "utc", "domain": [{"year": 2014, "month": 1, "date": 1, "utc": true}, {"year": 2015, "month": 10, "date": 1, "utc": true}]},
      "axis": {"orient": "bottom", "values": [{"year": 2014, "month": 1, "date": 1, "utc": true}, {"year": 2014, "month": 2, "date": 1, "utc": true}, {"year": 2014, "month": 3, "date": 1, "utc": true}, {"year": 2014, "month": 4, "date": 1, "utc": true}, {"year": 2014, "month": 5, "date": 1, "utc": true}, {"year": 2014, "month": 6, "date": 1, "utc": true}, {"year": 2014, "month": 7, "date": 1, "utc": true}, {"year": 2014, "month": 8, "date": 1, "utc": true}, {"year": 2014, "month": 9, "date": 1, "utc": true}, {"year": 2014, "month": 10, "date": 1, "utc": true}, {"year": 2014, "month": 11, "date": 1, "utc": true}, {"year": 2014, "month": 12, "date": 1, "utc": true}, {"year": 2015, "month": 1, "date": 1, "utc": true}, {"year": 2015, "month": 2, "date": 1, "utc": true}, {"year": 2015, "month": 3, "date": 1, "utc": true}, {"year": 2015, "month": 4, "date": 1, "utc": true}, {"year": 2015, "month": 5, "date": 1, "utc": true}, {"year": 2015, "month": 6, "date": 1, "utc": true}, {"year": 2015, "month": 7, "date": 1, "utc": true}, {"year": 2015, "month": 8, "date": 1, "utc": true}, {"year": 2015, "month": 9, "date": 1, "utc": true}],
        "labelExpr": "substring(utcFormat(datum.value, '%b'), 0, 1)", "labelFontSize": 15, "tickSize": -4, "labelPadding": 15, "domainColor": "#555", "domainDash": [1, 1]}},
    "color": {"field": "s", "type": "nominal",
      "scale": {"domain": ["p", "o", "a", "d"], "range": ["#0000ff", "#b4b4b4", "#000000", "#000000"]},
      "legend": {"title": null, "orient": "none", "legendX": 449, "legendY": -22, "direction": "horizontal", "symbolType": "stroke", "symbolSize": 256, "labelFontSize": 14, "columnPadding": 16, "labelOffset": 0, "padding": 0,
        "labelExpr": "datum.label == 'p' ? 'Pcp.' : datum.label == 'o' ? 'Obs.' : datum.label == 'a' ? 'Average Parameter' : 'Drought Parameter'",
        "encode": {"symbols": {"update": {"strokeWidth": {"signal": "datum.value == 'p' ? 6 : datum.value == 'o' ? 3 : 1.2"}, "strokeDash": {"signal": "datum.value == 'd' ? [3, 2] : [1, 0]"}}}}}}
  },
  "layer": [
    {"data": {"name": "bp"}, "transform": [{"fold": ["p"], "as": ["s", "v"]}],
     "mark": {"type": "rule", "strokeWidth": 1.5},
     "encoding": {
       "x": {"field": "t", "type": "temporal",
         "axis": {"orient": "bottom", "values": [{"year": 2014, "month": 5, "date": 11, "utc": true}, {"year": 2015, "month": 4, "date": 29, "utc": true}], "labelExpr": "utcFormat(datum.value, '%Y')", "ticks": false, "domain": false, "labelPadding": 26, "labelFontSize": 16, "title": "Date (day)", "titleFontSize": 18, "titlePadding": 2, "titleX": 420}},
       "y": {"field": "v", "type": "quantitative", "scale": {"domain": [0, 500], "reverse": true, "nice": false},
         "axis": {"orient": "right", "values": [0, 100, 200, 300, 400, 500], "format": "d", "title": "Precipitation (mm)", "titleAngle": 270, "labelFontSize": 13.5, "tickSize": 5, "labelPadding": 1, "titleFontSize": 18, "titlePadding": 33, "domainColor": "#555", "domainDash": [1, 1]}},
       "y2": {"datum": 0}}},
    {"encoding": {"y": {"field": "v", "type": "quantitative", "scale": {"type": "log", "domain": [0.1, 10000], "nice": false},
        "axis": {"orient": "left", "values": [0.1, 1, 10, 100, 1000, 10000], "format": ".1f", "title": "Stream discharge(m³/s)", "labelFontSize": 13, "tickSize": -4, "labelPadding": 28, "titleFontSize": 20, "titlePadding": 1}}},
     "layer": [
      {"data": {"name": "bot"}, "transform": [{"fold": ["o"], "as": ["s", "v"]}], "mark": {"type": "line", "strokeWidth": 3}},
      {"data": {"name": "bot"}, "transform": [{"fold": ["d"], "as": ["s", "v"]}], "mark": {"type": "line", "strokeWidth": 1, "strokeDash": [3, 2]}},
      {"data": {"name": "bot"}, "transform": [{"fold": ["a"], "as": ["s", "v"]}], "mark": {"type": "line", "strokeWidth": 1}}
     ]}
  ],
  "resolve": {"scale": {"y": "independent"}, "axis": {"x": "independent"}}
}
]
}
